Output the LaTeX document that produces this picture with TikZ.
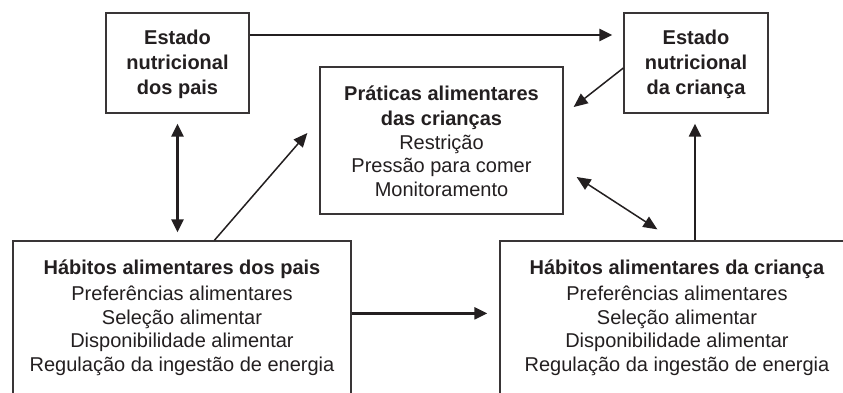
\documentclass[tikz,border=0pt]{standalone}
\usepackage{fontspec}
\setmainfont{Liberation Sans}
\usetikzlibrary{arrows.meta}
\definecolor{ink}{HTML}{231F20}
\begin{document}
\begin{tikzpicture}[x=1pt,y=-1pt,
  box/.style={draw=ink!90, line width=1.3pt, rectangle, inner sep=0pt},
  txt/.style={align=center, text=ink, font=\fontsize{20}{23.6}\selectfont, inner sep=0pt},
  tip/.style={Triangle[length=13pt,width=12pt]},
  thick arrow/.style={draw=ink, line width=2.3pt, -{Triangle[length=13pt,width=12pt]}},
  thick both/.style={draw=ink, line width=2.3pt, {Triangle[length=13pt,width=12pt]}-{Triangle[length=13pt,width=12pt]}},
  thin arrow/.style={draw=ink, line width=1.5pt, -{Triangle[length=14pt,width=12pt]}},
  thin both/.style={draw=ink, line width=1.5pt, {Triangle[length=14pt,width=12pt]}-{Triangle[length=14pt,width=12pt]}}
]
\useasboundingbox[fill=white] (0,0) rectangle (843,392);
\begin{scope}
\clip (0,0) rectangle (843,392);
% boxes
\node[box, minimum width=143pt, minimum height=100pt] (A) at (177.5,63) {};
\node[box, minimum width=144pt, minimum height=100pt] (B) at (696,63) {};
\node[box, minimum width=243pt, minimum height=147pt] (C) at (441.5,140.5) {};
\node[box, minimum width=338pt, minimum height=159pt] (D) at (182,320.5) {};
\node[box, minimum width=380pt, minimum height=159pt] (E) at (690,320.5) {};
% texts
\node[txt, font=\fontsize{20}{25}\selectfont\bfseries] (tA) at ([yshift=-1pt]A.center) {Estado\\nutricional\\dos pais};
\node[txt, font=\fontsize{20}{25}\selectfont\bfseries] (tB) at ([yshift=-1pt]B.center) {Estado\\nutricional\\da criança};
\node[txt, anchor=north] (tC) at (441.5,86) {\textbf{Práticas alimentares}\\[1pt]\textbf{das crianças}\\Restrição\\Pressão para comer\\Monitoramento};
\node[txt, anchor=north] (tD) at (182,260) {\textbf{Hábitos alimentares dos pais}\\[2pt]Preferências alimentares\\Seleção alimentar\\Disponibilidade alimentar\\Regulação da ingestão de energia};
\node[txt, anchor=north] (tE) at (677,260) {\textbf{Hábitos alimentares da criança}\\[2pt]Preferências alimentares\\Seleção alimentar\\Disponibilidade alimentar\\Regulação da ingestão de energia};
% connectors
\draw[thick arrow] ([yshift=28pt]A.east) -- ([xshift=-11pt,yshift=28pt]B.west);
\draw[thin arrow] ([yshift=-5pt]B.west) -- ([xshift=10pt,yshift=33.5pt]C.east);
\draw[thin both] ([xshift=13pt,yshift=-36.5pt]C.east) -- ([xshift=158pt,yshift=11pt]E.north west);
\draw[thick arrow] ([xshift=-1pt]B.south |- E.north) -- ([xshift=-1pt,yshift=-10pt]B.south);
\draw[thick both] ([yshift=-10pt]A.south) -- ([yshift=8pt]A.south |- D.north);
\draw[thin arrow] ([xshift=202pt]D.north west) -- ([xshift=-12pt,yshift=7.5pt]C.west);
\draw[thick arrow] ([yshift=-73pt]D.north east) -- ([xshift=-12pt,yshift=-73pt]E.north west);
\end{scope}
\end{tikzpicture}
\end{document}
